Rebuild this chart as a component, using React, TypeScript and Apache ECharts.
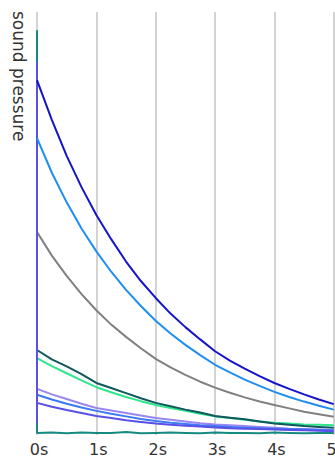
import React, { useEffect, useRef } from "react";
import * as echarts from "echarts";

// Sample times (seconds)
const TIMES = [0, 0.25, 0.5, 0.75, 1, 1.25, 1.5, 1.75, 2, 2.25, 2.5, 2.75, 3, 3.25, 3.5, 3.75, 4, 4.25, 4.5, 4.75, 5];

const TICK_LABELS = ["0s", "1s", "2s", "3s", "4s", "5s"];

// Decay curves of sound pressure over time
const darkBlue = [83.9, 74.5, 66.0, 58.6, 52.0, 46.3, 41.0, 36.4, 32.4, 28.7, 25.5, 22.6, 19.8, 17.6, 15.7, 13.9, 12.3, 10.9, 9.6, 8.4, 7.3];
const lightBlue = [70.2, 62.0, 55.0, 48.8, 43.4, 38.6, 34.3, 30.5, 27.0, 24.0, 21.3, 18.9, 16.6, 14.8, 13.1, 11.6, 10.2, 9.0, 7.9, 6.9, 6.0];
const gray = [48.0, 42.4, 37.6, 33.3, 29.5, 26.1, 23.2, 20.5, 18.0, 16.0, 14.2, 12.6, 11.2, 10.0, 8.9, 7.9, 7.1, 6.3, 5.5, 4.9, 4.3];
const darkTeal = [20.1, 17.9, 16.2, 14.4, 12.3, 11.1, 9.9, 8.7, 7.6, 6.8, 6.0, 5.3, 4.5, 4.1, 3.7, 3.2, 2.7, 2.4, 2.1, 1.9, 1.7];
const green = [18.2, 16.3, 14.6, 12.9, 11.3, 10.1, 9.0, 8.0, 7.1, 6.4, 5.7, 5.0, 4.4, 4.0, 3.6, 3.2, 2.9, 2.7, 2.5, 2.4, 2.3];
const lightPurple = [10.9, 9.6, 8.5, 7.4, 6.4, 5.8, 5.2, 4.6, 4.0, 3.6, 3.2, 2.8, 2.5, 2.3, 2.1, 1.9, 1.7, 1.5, 1.4, 1.3, 1.2];
const blue = [9.5, 8.4, 7.4, 6.5, 5.7, 5.0, 4.4, 3.8, 3.3, 2.9, 2.6, 2.3, 2.1, 1.9, 1.7, 1.6, 1.5, 1.4, 1.3, 1.2, 1.1];
const indigo = [7.6, 6.7, 5.9, 5.2, 4.5, 4.0, 3.5, 3.1, 2.7, 2.4, 2.2, 2.0, 1.8, 1.6, 1.5, 1.4, 1.3, 1.2, 1.1, 1.0, 0.9];
const teal = [0.5, 0.6, 0.4, 0.6, 0.5, 0.5, 0.7, 0.4, 0.5, 0.6, 0.5, 0.4, 0.6, 0.5, 0.5, 0.4, 0.6, 0.5, 0.4, 0.5, 0.5];

// Onset spikes at t = 0
const tealSpike = [0.5, 95.7];
const indigoSpike = [2.8, 88.2];

const pairs = (vals: number[], spike?: number[]) => {
  const pts: number[][] = [];
  if (spike) spike.forEach((v) => pts.push([0, v]));
  vals.forEach((v, i) => pts.push([TIMES[i], v]));
  return pts;
};

const line = (name: string, color: string, data: number[][], width = 2) => ({
  name,
  type: "line",
  data,
  showSymbol: false,
  symbol: "none",
  lineStyle: { color, width },
  itemStyle: { color },
});

export default function App() {
  const ref = useRef<HTMLDivElement>(null);

  useEffect(() => {
    if (!ref.current) return;
    const chart = echarts.init(ref.current, null, { renderer: "svg" });
    chart.setOption({
      animation: false,
      backgroundColor: "#ffffff",
      grid: { left: 37, top: 12, width: 300, height: 423 },
      xAxis: {
        type: "value",
        min: 0,
        max: 5,
        interval: 1,
        axisLine: { show: false },
        axisTick: { show: false },
        splitLine: { show: true, lineStyle: { color: "#c4c4c4", width: 1.5 } },
        axisLabel: {
          margin: 6,
          padding: [0, 0, 0, 4],
          color: "#333",
          fontFamily: "DejaVu Sans",
          fontSize: 16,
          formatter: (v: number) => TICK_LABELS[Math.round(v)],
        },
      },
      yAxis: {
        type: "value",
        min: 0,
        max: 100,
        axisLine: { show: false },
        axisTick: { show: false },
        axisLabel: { show: false },
        splitLine: { show: false },
      },
      graphic: [
        {
          type: "text",
          x: 19,
          y: 11,
          rotation: -Math.PI / 2,
          style: {
            text: "sound pressure",
            font: '17px "DejaVu Sans"',
            fill: "#333",
            textAlign: "left",
            textVerticalAlign: "middle",
          },
        },
      ],
      series: [
        line("teal", "#178a80", pairs(teal, tealSpike)),
        line("gray", "#808080", pairs(gray)),
        line("green", "#2ee68c", pairs(green)),
        line("darkTeal", "#10575e", pairs(darkTeal)),
        line("lightPurple", "#9a86f0", pairs(lightPurple)),
        line("blue", "#3a7af2", pairs(blue)),
        line("indigo", "#5a4fe6", pairs(indigo, indigoSpike)),
        line("lightBlue", "#1e8ff0", pairs(lightBlue)),
        line("darkBlue", "#1414c8", pairs(darkBlue)),
      ],
    });
    return () => chart.dispose();
  }, []);

  return (
    <div
      style={{
        position: "fixed",
        left: 0,
        top: 0,
        width: 335,
        height: 460,
        overflow: "hidden",
        background: "#fff",
      }}
    >
      <div ref={ref} style={{ width: 348, height: 460 }} />
    </div>
  );
}
